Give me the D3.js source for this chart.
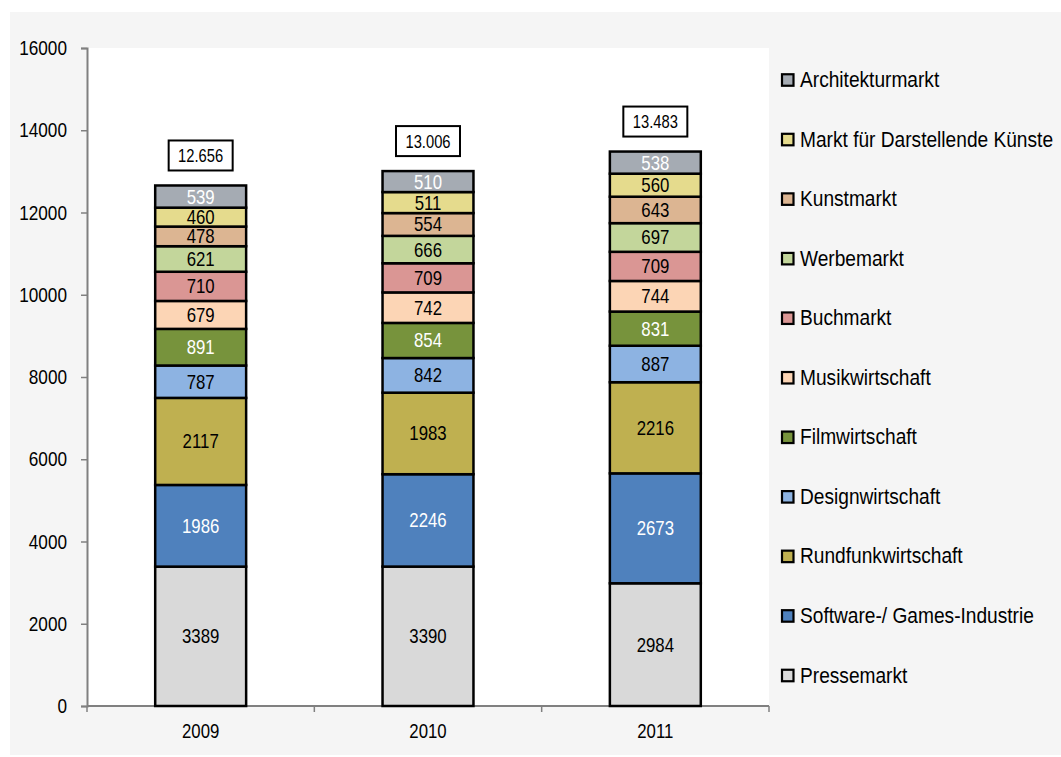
<!DOCTYPE html>
<html><head><meta charset="utf-8">
<script src="https://cdn.jsdelivr.net/npm/d3@7"></script>
<style>body{margin:0;background:#fff;}svg{display:block;font-family:"Liberation Sans",Arial,sans-serif;}</style>
</head><body>
<svg id="chart" width="1061" height="757"></svg>
<script>
const years = ["2009", "2010", "2011"];
const seriesNames = ["Pressemarkt", "Software-/ Games-Industrie", "Rundfunkwirtschaft", "Designwirtschaft", "Filmwirtschaft", "Musikwirtschaft", "Buchmarkt", "Werbemarkt", "Kunstmarkt", "Markt für Darstellende Künste", "Architekturmarkt"];
const pressemarkt = [3389, 3390, 2984];
const software = [1986, 2246, 2673];
const rundfunk = [2117, 1983, 2216];
const design = [787, 842, 887];
const film = [891, 854, 831];
const musik = [679, 742, 744];
const buch = [710, 709, 709];
const werbe = [621, 666, 697];
const kunst = [478, 554, 643];
const darstellende = [460, 511, 560];
const architektur = [539, 510, 538];
const totalLabels = ["12.656", "13.006", "13.483"];
const yTicks = [0, 2000, 4000, 6000, 8000, 10000, 12000, 14000, 16000];

const colors = ["#d9d9d9", "#4f81bd", "#bfb050", "#8db3e2", "#77933c", "#fcd5b5", "#da9694", "#c3d69b", "#dcb592", "#e5db8d", "#a5abb3"];
const labelColors = ["#000", "#fff", "#000", "#000", "#fff", "#000", "#000", "#000", "#000", "#000", "#fff"];
const allSeries = [pressemarkt, software, rundfunk, design, film, musik, buch, werbe, kunst, darstellende, architektur];

const svg = d3.select("#chart");
svg.append("rect").attr("x", 10).attr("y", 12).attr("width", 1051).attr("height", 743).attr("fill", "#f5f5f5");

const plotL = 87, plotR = 769, plotT = 48, plotB = 706;
svg.append("rect").attr("x", plotL).attr("y", plotT).attr("width", plotR - plotL).attr("height", plotB - plotT).attr("fill", "#fff");

const x = d3.scaleBand().domain(years).range([plotL, plotR]).paddingInner(0.6).paddingOuter(0.3);
const y = d3.scaleLinear().domain([0, 16000]).range([plotB, plotT]);

const table = years.map((yr, i) => {
  const o = {year: yr};
  seriesNames.forEach((s, k) => o[s] = allSeries[k][i]);
  return o;
});
const stacked = d3.stack().keys(seriesNames)(table);

// condensed text helper (narrow sans look)
function ctext(sel, px, py, size, sx, anchor) {
  return sel.append("text")
    .attr("transform", `translate(${px},${py}) scale(${sx},1)`)
    .attr("text-anchor", anchor).attr("font-size", size);
}

// axes
const yAxis = svg.append("g").attr("transform", `translate(${plotL},0)`)
  .call(d3.axisLeft(y).tickValues(yTicks).tickSize(6).tickFormat(""));
yAxis.select(".domain").attr("stroke", "#808080").attr("stroke-width", 2);
yAxis.selectAll(".tick line").attr("stroke", "#808080").attr("stroke-width", 1.5);
const yLab = svg.append("g");
yTicks.forEach(t => {
  ctext(yLab, plotL - 20, y(t) + 7, 20, 0.86, "end").attr("fill", "#000").text(d3.format("d")(t));
});

const xOuter = d3.scaleBand().domain(years).range([plotL, plotR]);
const xAxis = svg.append("g").attr("transform", `translate(0,${plotB})`);
xAxis.append("line").attr("x1", plotL).attr("x2", plotR).attr("stroke", "#808080").attr("stroke-width", 2);
const bounds = years.map(d => xOuter(d)).concat([plotR]);
xAxis.selectAll("line.tk").data(bounds).join("line").attr("class", "tk")
  .attr("x1", d => d).attr("x2", d => d).attr("y1", 0).attr("y2", 6).attr("stroke", "#808080").attr("stroke-width", 1.5);
years.forEach(yr => {
  ctext(xAxis, xOuter(yr) + xOuter.bandwidth() / 2, 32, 20, 0.84, "middle").text(yr);
});

// bars
const layers = svg.append("g").selectAll("g").data(stacked).join("g")
  .attr("fill", (d, i) => colors[i]);
layers.selectAll("rect").data(d => d).join("rect")
  .attr("x", d => x(d.data.year)).attr("width", x.bandwidth())
  .attr("y", d => y(d[1])).attr("height", d => y(d[0]) - y(d[1]))
  .attr("stroke", "#000").attr("stroke-width", 2.5);

// value labels
const vg = svg.append("g");
stacked.forEach((layer, k) => {
  layer.forEach(d => {
    ctext(vg, x(d.data.year) + x.bandwidth() / 2, (y(d[0]) + y(d[1])) / 2 + 7, 20, 0.84, "middle")
      .attr("fill", labelColors[k]).text(d[1] - d[0]);
  });
});

// totals
const topLayer = stacked[stacked.length - 1];
const tg = svg.append("g").selectAll("g").data(topLayer).join("g")
  .attr("transform", (d, i) => `translate(${x(d.data.year) + x.bandwidth() / 2},${y(d[1]) - 30})`);
tg.append("rect").attr("x", -32).attr("y", -15).attr("width", 64).attr("height", 30)
  .attr("fill", "#fff").attr("stroke", "#000").attr("stroke-width", 2);
tg.each(function(d, i) {
  ctext(d3.select(this), 0, 6.5, 18, 0.82, "middle").text(totalLabels[i]);
});

// legend
const legendOrder = seriesNames.map((s, i) => i).reverse();
const lg = svg.append("g").selectAll("g").data(legendOrder).join("g")
  .attr("transform", (d, j) => `translate(782,${80 + j * 59.55})`);
lg.append("rect").attr("x", 0).attr("y", -5.75).attr("width", 11.5).attr("height", 11.5)
  .attr("fill", d => colors[d]).attr("stroke", "#000").attr("stroke-width", 2.2);
lg.each(function(d) {
  ctext(d3.select(this), 18, 7, 21.5, 0.89, "start").text(seriesNames[d]);
});
</script>
</body></html>
